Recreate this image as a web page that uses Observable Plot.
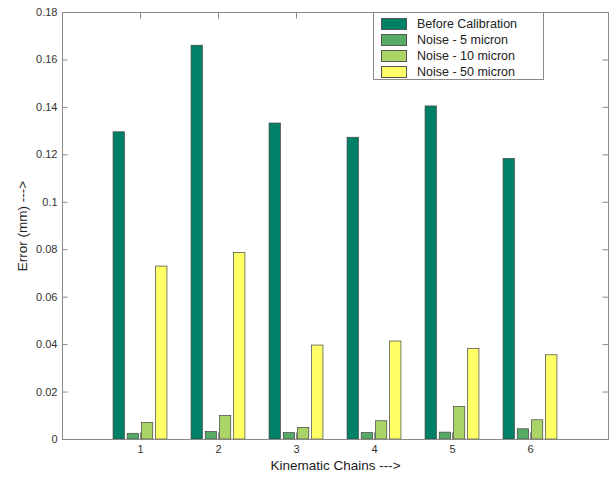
<!DOCTYPE html>
<html>
<head>
<meta charset="utf-8">
<script src="https://cdn.jsdelivr.net/npm/d3@7"></script>
<script src="https://cdn.jsdelivr.net/npm/@observablehq/plot@0.6"></script>
<style>
  html, body { margin: 0; padding: 0; background: #fff; }
  #wrap { position: relative; width: 610px; height: 477px; font-family: "Liberation Sans", Arial, sans-serif; }
  #legend { position: absolute; left: 373px; top: 12px; width: 171px; height: 68px; border: 1px solid #8a8a8a; background: #fff; box-sizing: border-box; padding-top: 3px; }
  .row { display: flex; align-items: center; height: 16px; }
  .sw { width: 26px; height: 12px; margin-left: 7px; margin-right: 10px; border: 1px solid #555; box-sizing: border-box; }
  .lb { font-size: 12.5px; color: #222; white-space: nowrap; }
</style>
</head>
<body>
<div id="wrap"><div id="legend"></div></div>
<script>
const chains = [1, 2, 3, 4, 5, 6];
const seriesNames = ["Before Calibration", "Noise - 5 micron", "Noise - 10 micron", "Noise - 50 micron"];
const beforeCalibration = [0.1295, 0.1660, 0.1332, 0.1272, 0.1404, 0.1183];
const noise5 = [0.0024, 0.0032, 0.0027, 0.0027, 0.0029, 0.0043];
const noise10 = [0.0070, 0.0099, 0.0049, 0.0077, 0.0137, 0.0081];
const noise50 = [0.0729, 0.0786, 0.0396, 0.0413, 0.0381, 0.0355];
const seriesColors = ["#008066", "#55aa66", "#aad466", "#ffff66"];
const yTicks = [0, 0.02, 0.04, 0.06, 0.08, 0.1, 0.12, 0.14, 0.16, 0.18];

const seriesValues = [beforeCalibration, noise5, noise10, noise50];
const nSeries = seriesNames.length;
const groupWidth = Math.min(0.8, nSeries / (nSeries + 1.5));
const barWidth = groupWidth / nSeries * 0.8;
const rows = [];
seriesValues.forEach((vals, i) => {
  vals.forEach((v, j) => {
    const c = chains[j] + (i - (nSeries - 1) / 2) * groupWidth / nSeries;
    rows.push({chain: chains[j], series: seriesNames[i], value: v, x1: c - barWidth / 2, x2: c + barWidth / 2});
  });
});

const axisColor = "#8a8a8a";
const plot = Plot.plot({
  width: 610,
  height: 477,
  marginLeft: 62,
  marginRight: 2,
  marginTop: 12,
  marginBottom: 38,
  style: {fontFamily: "'Liberation Sans', Arial, sans-serif", background: "#fff", color: "#333"},
  x: {domain: [0, 7]},
  y: {domain: [0, 0.18]},
  color: {domain: seriesNames, range: seriesColors},
  marks: [
    Plot.rectY(rows, {x1: "x1", x2: "x2", y: "value", fill: "series", stroke: "#444", strokeWidth: 0.7}),
    Plot.frame({stroke: axisColor}),
    Plot.ruleY(yTicks.slice(1, -1), {x1: 0, x2: 0.07, stroke: axisColor}),
    Plot.ruleY(yTicks.slice(1, -1), {x1: 6.93, x2: 7, stroke: axisColor}),
    Plot.ruleX(chains, {y1: 0.18, y2: 0.1772, stroke: axisColor}),
    Plot.ruleX(chains, {y1: 0, y2: 0.0028, stroke: axisColor}),
    Plot.axisY(yTicks, {tickSize: 0, tickPadding: 5, fontSize: 11, label: null, tickFormat: d => String(d)}),
    Plot.axisX(chains, {tickSize: 0, tickPadding: 6, fontSize: 11, label: null}),
    Plot.text(["Kinematic Chains --->"], {frameAnchor: "bottom", dy: 30, fontSize: 13.5, fill: "#222"}),
    Plot.text(["Error (mm) --->"], {frameAnchor: "left", textAnchor: "middle", dx: -40, rotate: -90, fontSize: 13.5, fill: "#222"})
  ]
});
document.getElementById("wrap").prepend(plot);

const legend = document.getElementById("legend");
seriesNames.forEach((name, i) => {
  const row = document.createElement("div");
  row.className = "row";
  const sw = document.createElement("div");
  sw.className = "sw";
  sw.style.background = seriesColors[i];
  const lb = document.createElement("div");
  lb.className = "lb";
  lb.textContent = name;
  row.appendChild(sw);
  row.appendChild(lb);
  legend.appendChild(row);
});
</script>
</body>
</html>
